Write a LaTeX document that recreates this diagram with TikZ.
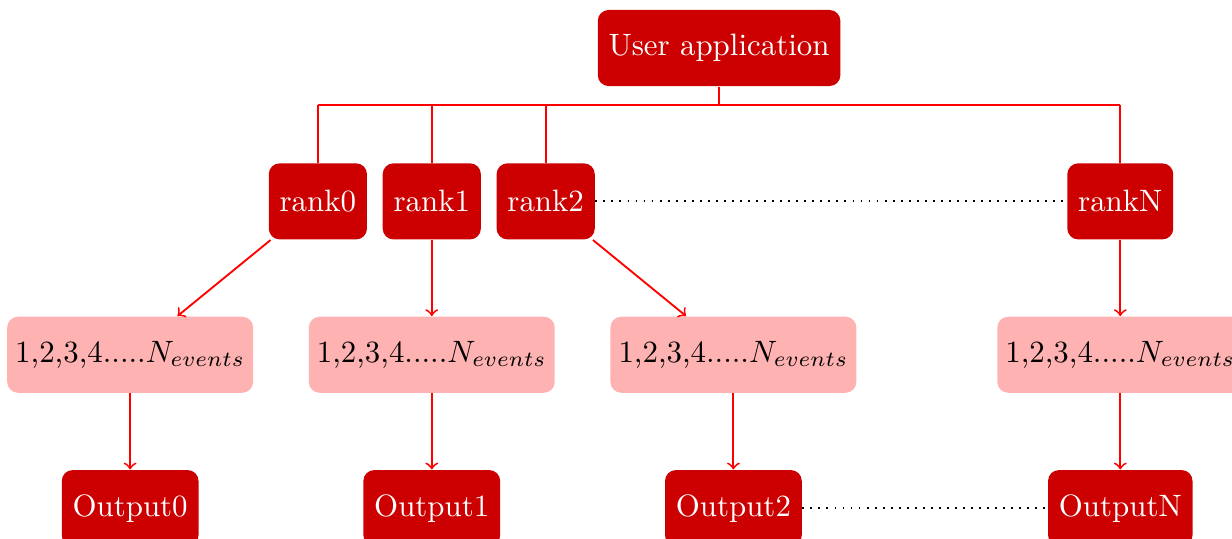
\documentclass[tikz,border=0pt]{standalone}
\usetikzlibrary{positioning,calc}

\begin{document}
\begin{tikzpicture}
    [box/.style={rounded corners=3.5pt,minimum height=0.865cm,inner xsep=3.5pt},
    task/.style={box,fill=red!80!black,text=white},
    events/.style={box,fill=red!30,text=black,inner xsep=2.6pt},
    link/.style={red,semithick},
    gap/.style={black,semithick,dotted},
    node distance=0.865cm]

    \useasboundingbox (-4.91,2.29) rectangle ++(14.01,-6.12);

    % ranks
    \node[task] (rank1) at (0,0) {rank1};
    \node[task] (rank0) [left=0.165cm of rank1] {rank0};
    \node[task] (rank2) [right=0.165cm of rank1] {rank2};
    \node[task] (rankN) [right=5.36cm of rank2] {rankN};

    % events per rank
    \node[events] (ev1) [below=of rank1] {1,2,3,4.....$N_{events}$};
    \node[events] (ev0) [left=0.62cm of ev1] {1,2,3,4.....$N_{events}$};
    \node[events] (ev2) [right=0.62cm of ev1] {1,2,3,4.....$N_{events}$};
    \node[events] (evN) [below=of rankN] {1,2,3,4.....$N_{events}$};

    % outputs
    \foreach \i in {0,1,2,N}
        \node[task] (out\i) [below=of ev\i] {Output\i};

    % application
    \coordinate (mid) at ($(rank0.north)!0.5!(rankN.north)$);
    \node[task] (app) [above=of mid] {User application};

    \coordinate (fork) at ($(app.south)+(0,-0.205)$);
    \draw[link] (app.south) -- (fork) (fork -| rank0) -- (fork -| rankN);
    \foreach \rk in {rank0,rank1,rank2,rankN}
        \draw[link] (fork -| \rk) -- (\rk.north);

    \foreach \i in {0,1,2,N} {
        \draw[link,->] (rank\i) -- (ev\i);
        \draw[link,->] (ev\i) -- (out\i);
    }

    \draw[gap] (rank2) -- (rankN);
    \draw[gap] (out2) -- (outN);
\end{tikzpicture}
\end{document}
